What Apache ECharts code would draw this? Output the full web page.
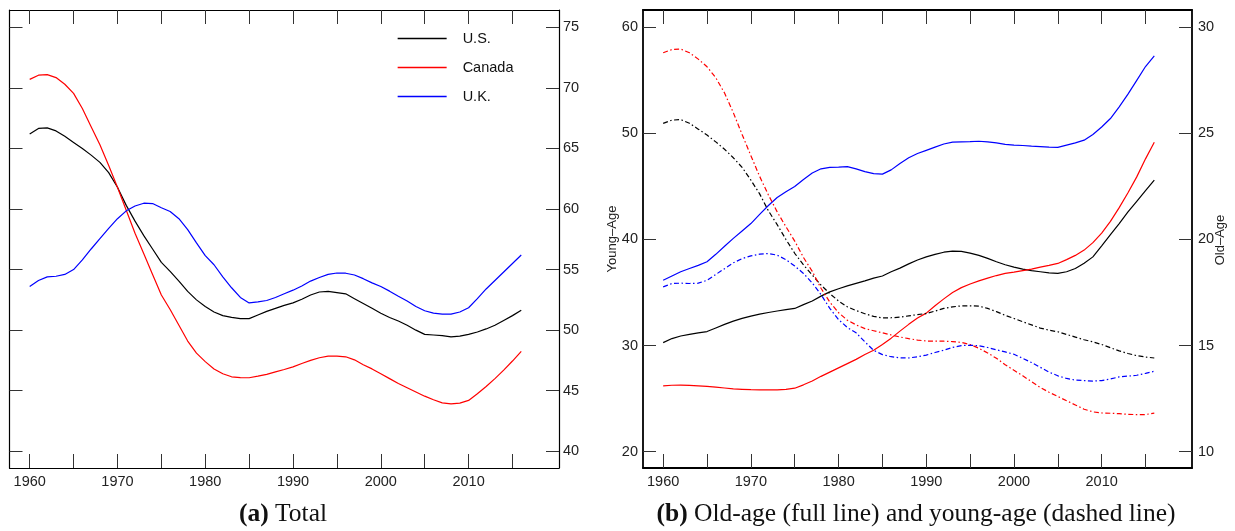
<!DOCTYPE html>
<html>
<head>
<meta charset="utf-8">
<script src="https://cdn.jsdelivr.net/npm/echarts@6/dist/echarts.min.js"></script>
<style>
html,body{margin:0;padding:0;background:#fff;}
#c{width:1235px;height:531px;}
</style>
</head>
<body>
<div id="c"></div>
<script>
// ---------- data ----------
const years = [1960,1961,1962,1963,1964,1965,1966,1967,1968,1969,1970,1971,1972,1973,1974,1975,1976,1977,1978,1979,1980,1981,1982,1983,1984,1985,1986,1987,1988,1989,1990,1991,1992,1993,1994,1995,1996,1997,1998,1999,2000,2001,2002,2003,2004,2005,2006,2007,2008,2009,2010,2011,2012,2013,2014,2015,2016];
const tickYears = [1960,1965,1970,1975,1980,1985,1990,1995,2000,2005,2010,2015];
const labelYears = [1960,1970,1980,1990,2000,2010];
const totalTicks = [40,45,50,55,60,65,70,75];
const youngTicks = [20,30,40,50,60];
const oldTicks = [10,15,20,25,30];

// (a) Total dependency ratio
const usTotal = [66.2,66.65,66.7,66.45,66.0,65.5,65.0,64.45,63.85,63.0,61.8,60.3,59.0,57.8,56.7,55.6,54.85,54.05,53.2,52.5,51.95,51.5,51.2,51.05,50.95,50.95,51.25,51.55,51.8,52.05,52.25,52.55,52.9,53.15,53.2,53.1,53.0,52.6,52.2,51.8,51.4,51.05,50.75,50.4,50.0,49.65,49.6,49.55,49.45,49.5,49.65,49.85,50.1,50.4,50.8,51.2,51.65];
const caTotal = [70.7,71.05,71.1,70.85,70.3,69.55,68.3,66.8,65.3,63.6,61.8,59.9,58.0,56.3,54.6,52.9,51.7,50.4,49.1,48.1,47.4,46.8,46.4,46.15,46.08,46.07,46.2,46.35,46.55,46.75,46.97,47.25,47.5,47.72,47.85,47.85,47.8,47.55,47.15,46.8,46.4,46.0,45.6,45.25,44.9,44.55,44.25,44.0,43.92,43.98,44.2,44.75,45.35,46.0,46.7,47.45,48.25];
const ukTotal = [53.6,54.1,54.4,54.45,54.6,55.0,55.8,56.7,57.55,58.4,59.2,59.85,60.25,60.48,60.45,60.1,59.8,59.2,58.3,57.2,56.15,55.4,54.4,53.5,52.7,52.25,52.33,52.45,52.7,53.0,53.3,53.65,54.05,54.35,54.6,54.72,54.7,54.55,54.25,53.9,53.6,53.22,52.8,52.4,51.95,51.6,51.4,51.33,51.32,51.5,51.85,52.6,53.4,54.1,54.8,55.5,56.2];

// (b) Old-age (right axis, full line)
const usOld = [15.14,15.33,15.45,15.53,15.6,15.66,15.83,16.0,16.15,16.28,16.39,16.48,16.56,16.63,16.69,16.75,16.93,17.1,17.33,17.53,17.68,17.81,17.93,18.05,18.18,18.28,18.48,18.65,18.85,19.03,19.18,19.3,19.4,19.45,19.44,19.36,19.25,19.11,18.95,18.81,18.7,18.6,18.53,18.48,18.43,18.4,18.48,18.63,18.88,19.18,19.7,20.23,20.75,21.3,21.8,22.3,22.8];
const caOld = [13.1,13.13,13.14,13.12,13.1,13.08,13.04,13.0,12.96,12.94,12.92,12.91,12.91,12.91,12.94,12.99,13.15,13.33,13.55,13.75,13.95,14.15,14.35,14.58,14.78,15.05,15.35,15.68,16.0,16.3,16.53,16.88,17.2,17.5,17.73,17.9,18.05,18.18,18.3,18.4,18.46,18.53,18.6,18.7,18.78,18.87,19.05,19.25,19.5,19.85,20.3,20.85,21.5,22.2,22.95,23.8,24.58];
const ukOld = [18.08,18.28,18.48,18.63,18.78,18.95,19.3,19.68,20.05,20.4,20.75,21.18,21.6,21.98,22.25,22.5,22.83,23.13,23.33,23.4,23.41,23.43,23.33,23.2,23.1,23.08,23.28,23.58,23.85,24.05,24.2,24.35,24.5,24.59,24.6,24.61,24.63,24.6,24.55,24.48,24.45,24.43,24.4,24.38,24.35,24.34,24.45,24.55,24.68,24.95,25.3,25.7,26.25,26.85,27.5,28.15,28.65];

// (b) Young-age (left axis, dashed line)
const usYoung = [50.94,51.25,51.3,50.95,50.4,49.84,49.2,48.5,47.7,46.8,45.6,44.3,42.7,41.4,40.0,38.7,37.6,36.65,35.7,34.9,34.2,33.65,33.3,33.0,32.75,32.6,32.62,32.68,32.8,32.92,33.02,33.25,33.5,33.65,33.74,33.75,33.72,33.5,33.2,32.85,32.55,32.25,31.95,31.65,31.45,31.3,31.05,30.8,30.55,30.35,30.1,29.8,29.5,29.25,29.05,28.92,28.83];
const caYoung = [57.6,57.9,57.95,57.6,57.0,56.28,55.25,53.8,51.95,49.9,47.9,45.95,44.2,42.6,41.2,39.85,38.3,37.0,35.4,34.1,33.1,32.39,31.95,31.6,31.4,31.2,31.0,30.81,30.65,30.52,30.43,30.42,30.41,30.38,30.3,30.1,29.75,29.3,28.8,28.2,27.67,27.15,26.6,26.05,25.6,25.2,24.8,24.4,24.0,23.75,23.65,23.62,23.58,23.52,23.49,23.5,23.64];
const ukYoung = [35.53,35.85,35.88,35.85,35.88,36.15,36.7,37.25,37.8,38.2,38.45,38.62,38.68,38.52,38.1,37.5,36.8,35.9,34.8,33.5,32.45,31.7,31.2,30.35,29.55,29.15,28.95,28.85,28.83,28.95,29.1,29.35,29.56,29.82,30.0,30.03,29.98,29.82,29.6,29.4,29.18,28.8,28.4,27.95,27.5,27.15,26.9,26.75,26.7,26.65,26.7,26.85,27.05,27.12,27.2,27.38,27.58];

// ---------- chart ----------
const SANS = 'Liberation Sans, Arial, sans-serif';
const COL = {us:'#000000', ca:'#ff0000', uk:'#0000ff'};
const pairs = arr => years.map((y,i)=>[y, arr[i]]);
const X_MIN = 1957.7, X_MAX = 2020.3;

function xAx(grid, pos, showLabel, lw){
  return {
    gridIndex: grid, type:'value', position: pos, min: X_MIN, max: X_MAX,
    axisLine:{show:true, onZero:false, lineStyle:{color:'#000', width:lw}},
    axisTick:{show:true, inside:true, length:14, customValues: tickYears, lineStyle:{color:'#333', width:1}},
    axisLabel:{show:showLabel, customValues: labelYears, margin:6, fontSize:14.5, color:'#222', fontFamily:SANS, formatter: v => String(v)},
    splitLine:{show:false}
  };
}
function yAx(grid, pos, min, max, ticks, showLabel, lw, margin){
  return {
    gridIndex: grid, type:'value', position: pos, min: min, max: max,
    axisLine:{show:true, onZero:false, lineStyle:{color:'#000', width:lw}},
    axisTick:{show:true, inside:true, length:13, customValues: ticks, lineStyle:{color:'#333', width:1}},
    axisLabel:{show:showLabel, customValues: ticks, margin:margin, fontSize:14.5, color:'#222', fontFamily:SANS, formatter: v => String(v)},
    splitLine:{show:false}
  };
}
function line(name, data, color, xi, yi, dashed){
  return {
    name: name, type:'line', xAxisIndex: xi, yAxisIndex: yi, data: pairs(data),
    symbol:'none', showSymbol:false, smooth:false, silent:true,
    lineStyle:{color:color, width:1.2, type: dashed ? [5,2.5,1.5,2.5] : 'solid'},
    itemStyle:{color:color}
  };
}

const chart = echarts.init(document.getElementById('c'), null, {renderer:'canvas'});
chart.setOption({
  animation:false,
  backgroundColor:'#ffffff',
  grid:[
    {left:9.5, top:10, width:549.5, height:458},
    {left:643, top:10, width:549, height:458}
  ],
  xAxis:[
    xAx(0,'bottom',true,1.2), xAx(0,'top',false,1.2),
    xAx(1,'bottom',true,1.8), xAx(1,'top',false,1.8)
  ],
  yAxis:[
    yAx(0,'left',38.62,76.43,totalTicks,false,1.2,4),
    yAx(0,'right',38.62,76.43,totalTicks,true,1.2,4),
    yAx(1,'left',18.46,61.63,youngTicks,true,1.8,5),
    yAx(1,'right',9.23,30.815,oldTicks,true,1.8,6)
  ],
  legend:{
    data:[
      {name:'U.S.', lineStyle:{color:COL.us, width:1.3}},
      {name:'Canada', lineStyle:{color:COL.ca, width:1.3}},
      {name:'U.K.', lineStyle:{color:COL.uk, width:1.3}}
    ],
    orient:'vertical', left:397, top:31, padding:0,
    itemWidth:49, itemHeight:14, itemGap:14,
    itemStyle:{opacity:0},
    textStyle:{fontSize:14.5, color:'#111', fontFamily:SANS, padding:[0,0,0,11]},
    selectedMode:false
  },
  series:[
    line('U.S.', usTotal, COL.us, 0, 1, false),
    line('Canada', caTotal, COL.ca, 0, 1, false),
    line('U.K.', ukTotal, COL.uk, 0, 1, false),
    line('U.S. old-age', usOld, COL.us, 2, 3, false),
    line('Canada old-age', caOld, COL.ca, 2, 3, false),
    line('U.K. old-age', ukOld, COL.uk, 2, 3, false),
    line('U.S. young-age', usYoung, COL.us, 2, 2, true),
    line('Canada young-age', caYoung, COL.ca, 2, 2, true),
    line('U.K. young-age', ukYoung, COL.uk, 2, 2, true)
  ],
  graphic:[
    {type:'text', x:612.5, y:239, rotation:Math.PI/2,
     style:{text:'Young\u2013Age', fontSize:13, fontFamily:SANS, fill:'#222', align:'center', verticalAlign:'middle'}},
    {type:'text', x:1220, y:240, rotation:Math.PI/2,
     style:{text:'Old\u2013Age', fontSize:13, fontFamily:SANS, fill:'#222', align:'center', verticalAlign:'middle'}},
    {type:'text', x:283, y:514,
     style:{text:'{b|(a)} Total', align:'center', verticalAlign:'middle', fill:'#111',
       font:'25.5px "Liberation Serif", serif',
       rich:{b:{fontWeight:'bold', fontSize:25.5, fontFamily:'Liberation Serif', fill:'#111'}}}},
    {type:'text', x:916, y:514,
     style:{text:'{b|(b)} Old-age (full line) and young-age (dashed line)', align:'center', verticalAlign:'middle', fill:'#111',
       font:'25.5px "Liberation Serif", serif',
       rich:{b:{fontWeight:'bold', fontSize:25.5, fontFamily:'Liberation Serif', fill:'#111'}}}}
  ]
});
</script>
</body>
</html>
